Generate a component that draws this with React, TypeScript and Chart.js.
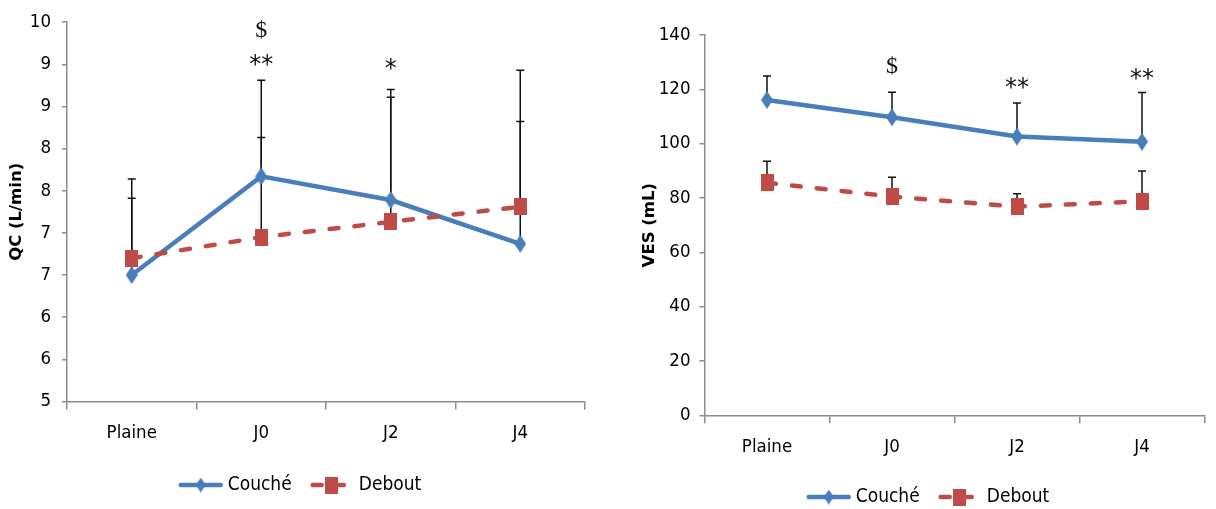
import React, { useEffect, useRef } from "react";
import { Chart, registerables } from "chart.js";
Chart.register(...registerables);

// ---------- data ----------
const categories = ["Plaine", "J0", "J2", "J4"];
const seriesNames = ["Couché", "Debout"];

const qcCouche = [6.5, 7.67, 7.39, 6.87];
const qcDebout = [6.7, 6.95, 7.13, 7.31];
const qcCoucheUpper = [7.41, 8.81, 8.7, 8.93];
const qcDeboutUpper = [7.64, 8.13, 8.61, 8.32];
const qcTickLabels = ["5", "6", "6", "7", "7", "8", "8", "9", "9", "10"];
const qcAnnotIndex = [1, 1, 2];
const qcAnnotValue = [9.4, 9.05, 9.0];
const qcAnnotText = ["$", "**", "*"];

const vesCouche = [116.1, 109.7, 102.6, 100.7];
const vesDebout = [85.6, 80.5, 76.8, 78.8];
const vesCoucheUpper = [124.9, 118.9, 115.0, 118.8];
const vesDeboutUpper = [93.5, 87.6, 81.6, 89.9];
const vesTickLabels = ["0", "20", "40", "60", "80", "100", "120", "140"];
const vesAnnotIndex = [1, 2, 3];
const vesAnnotValue = [128.3, 122.6, 125.6];
const vesAnnotText = ["$", "**", "**"];

// ---------- styles ----------
const BLUE = "#4a7ebb";
const RED = "#be4b48";
const AXIS = "#8c8c8c";
const NARROW = "'Liberation Sans Narrow', 'DejaVu Sans Condensed', 'Liberation Sans', sans-serif";
const RED_DASH = [9, 16];

function makeDiamond(w: number, h: number, color: string) {
  const c = document.createElement("canvas");
  c.width = w;
  c.height = h;
  const ctx = c.getContext("2d")!;
  ctx.fillStyle = color;
  ctx.beginPath();
  ctx.moveTo(w / 2, 0);
  ctx.lineTo(w, h / 2);
  ctx.lineTo(w / 2, h);
  ctx.lineTo(0, h / 2);
  ctx.closePath();
  ctx.fill();
  return c;
}
function makeRect(w: number, h: number, color: string) {
  const c = document.createElement("canvas");
  c.width = w;
  c.height = h;
  const ctx = c.getContext("2d")!;
  ctx.fillStyle = color;
  ctx.fillRect(0, 0, w, h);
  return c;
}

type Cfg = {
  couche: number[];
  debout: number[];
  coucheUpper: number[];
  deboutUpper: number[];
  min: number;
  max: number;
  step: number;
  tickLabels: string[];
  title: string;
  titlePad: number;
  annotIndex: number[];
  annotValue: number[];
  annotText: string[];
  padTop: number;
  padRight: number;
  yWidth: number;
  xHeight: number;
  yTickPad: number;
  legendY: number;
};

function buildChart(canvas: HTMLCanvasElement, c: Cfg) {
  const diamond = makeDiamond(12, 18, BLUE);
  const square = makeRect(13, 17, RED);
  const legDiamond = makeDiamond(10, 15, BLUE);

  const errorBars = {
    id: "errorBars",
    beforeDatasetsDraw(chart: any) {
      const ctx = chart.ctx;
      const x = chart.scales.x;
      const y = chart.scales.y;
      ctx.save();
      ctx.strokeStyle = "#111";
      ctx.lineWidth = 1.5;
      const draw = (vals: number[], ups: number[]) => {
        vals.forEach((v, i) => {
          const px = x.getPixelForValue(i);
          const y0 = y.getPixelForValue(v);
          const y1 = y.getPixelForValue(ups[i]);
          ctx.beginPath();
          ctx.moveTo(px, y0);
          ctx.lineTo(px, y1);
          ctx.moveTo(px - 4, y1);
          ctx.lineTo(px + 4, y1);
          ctx.stroke();
        });
      };
      draw(c.couche, c.coucheUpper);
      draw(c.debout, c.deboutUpper);
      ctx.restore();
    },
  };

  const annotations = {
    id: "annots",
    afterDatasetsDraw(chart: any) {
      const ctx = chart.ctx;
      const x = chart.scales.x;
      const y = chart.scales.y;
      ctx.save();
      ctx.fillStyle = "#111";
      ctx.textAlign = "center";
      ctx.textBaseline = "middle";
      c.annotText.forEach((t, k) => {
        const px = x.getPixelForValue(c.annotIndex[k]);
        const py = y.getPixelForValue(c.annotValue[k]);
        if (t === "$") {
          ctx.font = "24px 'Liberation Serif', 'DejaVu Serif', serif";
          ctx.fillText(t, px, py);
        } else {
          ctx.font = "24px 'DejaVu Sans', sans-serif";
          ctx.fillText(t, px, py + 6);
        }
      });
      ctx.restore();
    },
  };

  const legend = {
    id: "customLegend",
    afterDraw(chart: any) {
      const ctx = chart.ctx;
      ctx.save();
      ctx.font = `19px ${NARROW}`;
      const lineLen = 44;
      const gapText = 5;
      const gapItem = 18;
      const w0 = ctx.measureText(seriesNames[0]).width;
      const w1 = ctx.measureText(seriesNames[1]).width;
      const total = lineLen + gapText + w0 + gapItem + lineLen + gapText + w1;
      let xx = chart.width / 2 - total / 2;
      const yy = c.legendY;
      // Couché
      ctx.strokeStyle = BLUE;
      ctx.lineWidth = 4.5;
      ctx.lineCap = "round";
      ctx.beginPath();
      ctx.moveTo(xx + 2, yy);
      ctx.lineTo(xx + lineLen - 2, yy);
      ctx.stroke();
      ctx.drawImage(legDiamond, xx + lineLen / 2 - 5, yy - 7.5);
      ctx.fillStyle = "#000";
      ctx.textBaseline = "middle";
      ctx.textAlign = "left";
      ctx.fillText(seriesNames[0], xx + lineLen + gapText, yy);
      xx += lineLen + gapText + w0 + gapItem;
      // Debout
      ctx.strokeStyle = RED;
      ctx.setLineDash([9, 13]);
      ctx.beginPath();
      ctx.moveTo(xx + 3, yy);
      ctx.lineTo(xx + lineLen - 3, yy);
      ctx.stroke();
      ctx.setLineDash([]);
      ctx.drawImage(square, xx + lineLen / 2 - 6.5, yy - 8.5);
      ctx.fillText(seriesNames[1], xx + lineLen + gapText, yy);
      ctx.restore();
    },
  };

  return new Chart(canvas, {
    type: "line",
    data: {
      labels: categories,
      datasets: [
        {
          label: seriesNames[1],
          data: c.debout,
          borderColor: RED,
          backgroundColor: RED,
          borderWidth: 4.5,
          borderDash: RED_DASH,
          borderCapStyle: "round",
          pointStyle: square as any,
          pointRadius: 7,
          tension: 0,
        },
        {
          label: seriesNames[0],
          data: c.couche,
          borderColor: BLUE,
          backgroundColor: BLUE,
          borderWidth: 4.5,
          pointStyle: diamond as any,
          pointRadius: 7,
          tension: 0,
        },
      ],
    },
    options: {
      responsive: false,
      animation: false,
      events: [],
      layout: { padding: { top: c.padTop, right: c.padRight, left: 0, bottom: 0 } },
      plugins: { legend: { display: false }, tooltip: { enabled: false } },
      scales: {
        x: {
          type: "category",
          offset: true,
          grid: {
            offset: true,
            drawOnChartArea: false,
            drawTicks: true,
            tickLength: 8,
            color: AXIS,
            lineWidth: 1.5,
          },
          border: { color: AXIS, width: 1.5 },
          ticks: { font: { family: NARROW, size: 18.5 }, color: "#000", padding: 13, maxRotation: 0 },
          afterFit: (s: any) => {
            s.height = c.xHeight;
          },
        },
        y: {
          min: c.min,
          max: c.max,
          ticks: {
            stepSize: c.step,
            callback: (_v: any, i: number) => c.tickLabels[i],
            font: { family: NARROW, size: 18.5 },
            color: "#000",
            padding: c.yTickPad,
          },
          grid: { drawOnChartArea: false, tickLength: 5, color: AXIS, lineWidth: 1.5 },
          border: { color: AXIS, width: 1.5 },
          title: {
            display: true,
            text: c.title,
            color: "#000",
            font: { family: "'DejaVu Sans', sans-serif", weight: "bold", size: 16.5 },
            padding: { top: c.titlePad, bottom: 0 },
          },
          afterFit: (s: any) => {
            s.width = c.yWidth;
          },
        },
      },
    },
    plugins: [errorBars, annotations, legend],
  } as any);
}

export default function App() {
  const leftRef = useRef<HTMLCanvasElement>(null);
  const rightRef = useRef<HTMLCanvasElement>(null);

  useEffect(() => {
    const a = buildChart(leftRef.current!, {
      couche: qcCouche,
      debout: qcDebout,
      coucheUpper: qcCoucheUpper,
      deboutUpper: qcDeboutUpper,
      min: 5,
      max: 9.5,
      step: 0.5,
      tickLabels: qcTickLabels,
      title: "QC (L/min)",
      titlePad: 7,
      annotIndex: qcAnnotIndex,
      annotValue: qcAnnotValue,
      annotText: qcAnnotText,
      padTop: 21.7,
      padRight: 15,
      yWidth: 67,
      xHeight: 107.5,
      yTickPad: 11,
      legendY: 485,
    });
    const b = buildChart(rightRef.current!, {
      couche: vesCouche,
      debout: vesDebout,
      coucheUpper: vesCoucheUpper,
      deboutUpper: vesDeboutUpper,
      min: 0,
      max: 140,
      step: 20,
      tickLabels: vesTickLabels,
      title: "VES (mL)",
      titlePad: 0,
      annotIndex: vesAnnotIndex,
      annotValue: vesAnnotValue,
      annotText: vesAnnotText,
      padTop: 35,
      padRight: 1.5,
      yWidth: 64.5,
      xHeight: 93.7,
      yTickPad: 9,
      legendY: 497,
    });
    return () => {
      a.destroy();
      b.destroy();
    };
  }, []);

  return (
    <div style={{ position: "absolute", left: 0, top: 0, width: 1216, height: 509, background: "#fff" }}>
      <canvas ref={leftRef} width={600} height={509} style={{ position: "absolute", left: 0, top: 0 }} />
      <canvas ref={rightRef} width={576} height={509} style={{ position: "absolute", left: 640, top: 0 }} />
    </div>
  );
}
